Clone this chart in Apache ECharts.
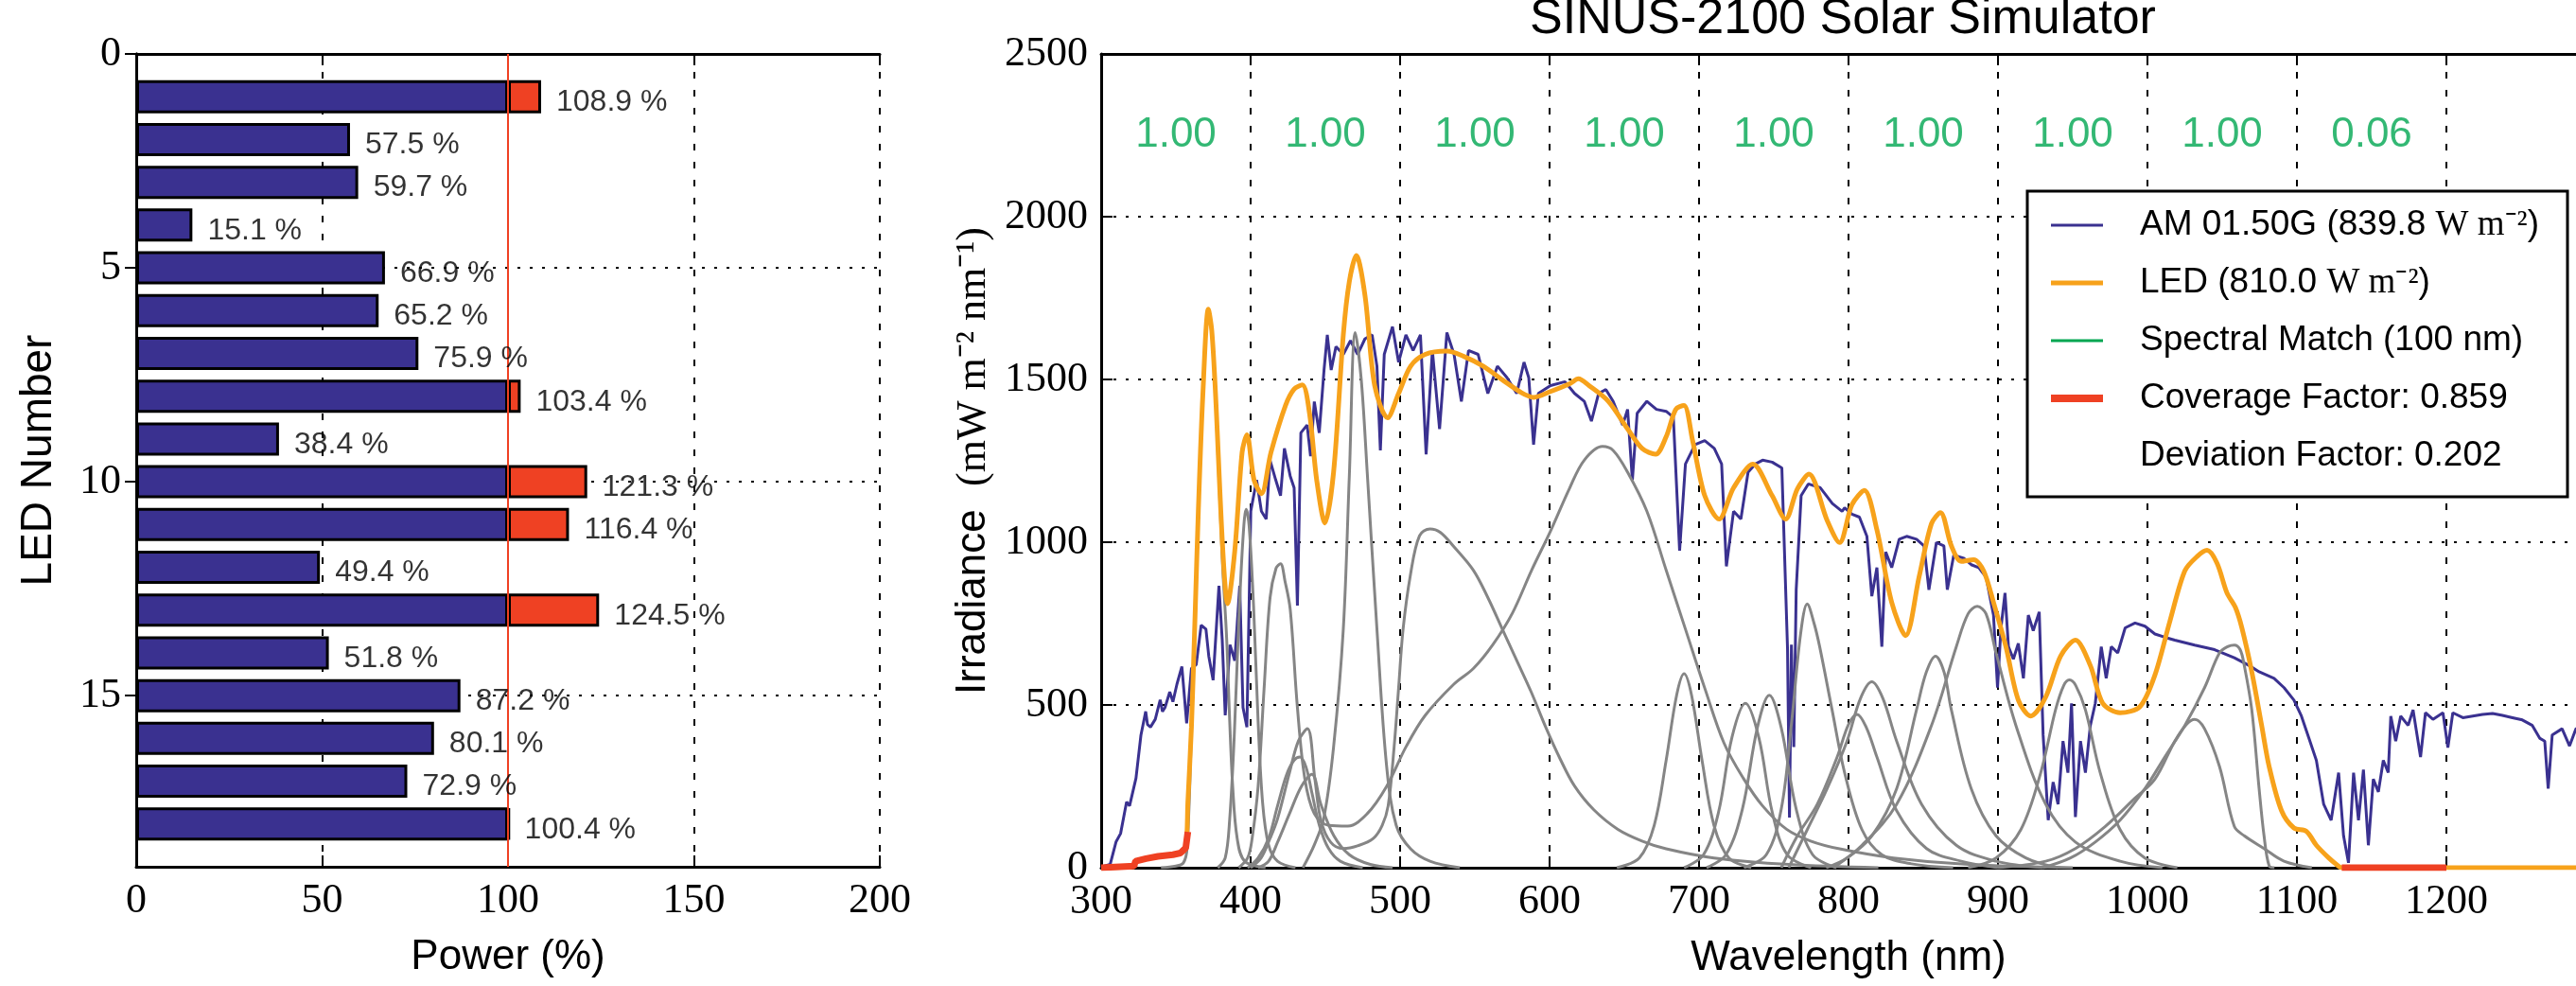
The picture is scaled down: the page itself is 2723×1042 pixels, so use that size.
<!DOCTYPE html>
<html><head><meta charset="utf-8">
<script src="https://cdn.jsdelivr.net/npm/echarts@6/dist/echarts.min.js"></script>
<style>html,body{margin:0;padding:0;background:#fff;}#c{width:2723px;height:1042px;}</style>
</head><body><div id="c"></div>
<script>
// ---------------- LEFT PANEL DATA ----------------
const ledNumbers = [1,2,3,4,5,6,7,8,9,10,11,12,13,14,15,16,17,18];
const ledPower = [108.9,57.5,59.7,15.1,66.9,65.2,75.9,103.4,38.4,121.3,116.4,49.4,124.5,51.8,87.2,80.1,72.9,100.4];
const ledAxisSlots = ['0','1','2','3','4','5','6','7','8','9','10','11','12','13','14','15','16','17','18','19'];
const ledTickLabels = ['0','5','10','15'];
const powerTicks = {min:0, max:200, step:50};
const nominalPower = 100;

// ---------------- RIGHT PANEL DATA ----------------
const wavelengthTicks = {min:300, max:1300, step:100};
const irradianceTicks = {min:0, max:2500, step:500};
const matchCenters = [350,450,550,650,750,850,950,1050,1150];
const matchValues = [1.00,1.00,1.00,1.00,1.00,1.00,1.00,1.00,0.06];
const matchLabelLevel = 2250;

const amSpectrum = [[300,0],[302.8,6],[306,10],[310,80],[313,105],[317,202],[319,190],[323.3,275],[326.6,407],[329.8,480],[331,440],[333,432],[336.2,456],[339.5,516],[341,480],[342.7,492],[345.9,540],[348,510],[350.7,564],[354,618],[357.2,444],[360.4,612],[363.6,624],[366.9,745],[370.1,733],[372,650],[374.9,576],[378.8,866],[381,700],[383,468],[386.2,685],[389.4,636],[392.7,866],[394.9,492],[397.5,432],[400.1,1095],[404,1191],[407.2,1095],[410.4,1071],[413,1252],[416.8,1191],[420,1143],[422.6,1288],[426.5,1203],[429.1,1167],[431.3,805],[433.6,1336],[437.8,1360],[440.1,1264],[442.6,1432],[445.9,1336],[449.1,1529],[451.3,1637],[453.9,1529],[457.1,1601],[462,1577],[466.8,1619],[471.6,1577],[476.5,1625],[481.3,1637],[484.5,1541],[486.8,1282],[489.4,1577],[494.9,1662],[499,1553],[503.9,1637],[508.7,1589],[513.6,1637],[517.4,1270],[521.6,1589],[526.4,1348],[531.3,1644],[536.1,1577],[541,1432],[545.8,1589],[552.2,1577],[558.7,1457],[565.1,1541],[571.6,1505],[578,1457],[582.9,1553],[586.1,1505],[589.3,1300],[592.5,1457],[600.6,1481],[610.3,1493],[616.7,1457],[623.2,1433],[628,1372],[632.8,1457],[637.7,1469],[642.5,1433],[648.9,1360],[652.2,1408],[655.4,1191],[658.6,1396],[665.1,1433],[671.5,1408],[678,1402],[682.8,1384],[687,974],[690.9,1240],[697.3,1300],[703.8,1312],[710.2,1288],[715.1,1240],[718.3,926],[723.1,1095],[728,1071],[732.8,1215],[737.6,1240],[742.5,1252],[748.9,1246],[755.4,1228],[759.2,673],[760.5,154],[761.8,685],[763.4,371],[765,854],[768.3,1143],[773.1,1179],[781.2,1167],[789.2,1119],[795.7,1095],[797.4,1106],[802.3,1086],[807.3,1077],[812.3,1018],[815.6,834],[819,922],[822.3,679],[824.9,970],[828.9,922],[833.9,1009],[838.9,1018],[845.5,1009],[850.5,989],[853.8,854],[858.8,999],[863.8,989],[866.1,854],[870.4,960],[877.1,951],[882.1,931],[887.1,922],[892,893],[897,776],[899.7,553],[902,737],[904.7,844],[907,679],[910.3,641],[913.6,689],[917,582],[920.3,776],[923.6,728],[927.6,786],[930.2,408],[933.6,146],[936.9,263],[940.2,195],[943.5,389],[946.8,292],[949.2,505],[951.8,156],[955.2,389],[958.5,292],[961.8,437],[965.1,505],[969.1,679],[972.4,582],[975.8,679],[980.1,660],[985.1,737],[991.7,752],[998.3,742],[1005,718],[1011.6,708],[1018.3,699],[1031.6,684],[1044.9,670],[1058.1,645],[1068.1,621],[1074.7,602],[1084.7,582],[1091.4,553],[1098,515],[1103,466],[1108,398],[1113,330],[1117.9,195],[1122.9,146],[1127.9,292],[1131.2,98],[1134.5,15],[1137.9,292],[1141.2,146],[1144.5,301],[1147.8,69],[1151.1,272],[1154.5,233],[1157.8,330],[1161.1,292],[1162.8,466],[1166.1,389],[1169.4,466],[1174.4,437],[1177.7,485],[1182.7,340],[1186,476],[1191,456],[1197.7,476],[1201,369],[1204.3,476],[1211,461],[1217.6,466],[1224.2,471],[1230.9,474],[1237.5,468],[1244.2,461],[1250.8,454],[1257.5,437],[1262.4,398],[1265.8,389],[1268.1,243],[1270.8,408],[1277.4,427],[1282.4,374],[1286.7,427],[1292,432],[1300,428]];

const ledTotal = [[300,0],[322,5],[323,20],[330,28],[338,35],[348,40],[353,45],[356.6,61],[358,200],[360.4,432],[363,800],[365,1095],[368,1450],[371.7,1716],[374,1650],[376.5,1457],[381.4,974],[384.6,811],[389.4,974],[394.3,1276],[397.5,1330],[402.3,1191],[407.2,1149],[413.6,1276],[423.3,1420],[429,1470],[434.6,1483],[439.4,1396],[444.2,1191],[449.7,1059],[455.5,1215],[462,1637],[466,1800],[470.7,1881],[476.5,1758],[483,1481],[491.6,1382],[499,1457],[507.1,1541],[516.8,1577],[531.3,1587],[542.6,1571],[555.5,1541],[568.4,1499],[581.3,1459],[589.3,1445],[600.6,1463],[613.5,1487],[619.3,1502],[626.4,1481],[639.3,1433],[652.2,1348],[661.9,1288],[670.9,1270],[678,1324],[684.4,1408],[689.9,1420],[695.7,1312],[703.8,1143],[713.4,1071],[723.1,1167],[736,1240],[748.9,1143],[757.9,1071],[765.8,1164],[773.5,1209],[785.7,1067],[794,999],[802.3,1115],[810.6,1159],[819,1038],[828.9,815],[838.2,713],[847.2,893],[855.5,1057],[861.5,1091],[868.8,989],[875.4,941],[883.7,946],[890.4,912],[897,815],[905.3,679],[913.6,515],[921.9,466],[931.9,524],[941.9,650],[951.8,699],[961.8,621],[970.1,505],[981.7,476],[995,495],[1005,592],[1015,757],[1025,912],[1033.2,956],[1039.9,975],[1046.5,936],[1053.2,844],[1058.8,800],[1063.1,738],[1069.8,602],[1076.4,437],[1081.4,311],[1089.7,175],[1098,122],[1106.3,112],[1113,69],[1121.3,30],[1126.2,11],[1130,0],[1300,0]];

const coverageGaps = [[300,0],[322,5],[323,20],[330,28],[338,35],[348,40],[353,45],[356.6,61],[358,110],null,[1130,0],[1200,0]];

const ledSpectra = [
 [[340,0],[350,5],[355,15],[357.5,60],[360.4,420],[363,790],[365,1090],[368,1440],[371.7,1700],[374,1640],[376.5,1450],[381,950],[384,700],[386,450],[388,250],[391,90],[396,20],[410,0]],
 [[378,0],[383,30],[386,150],[389,400],[392,750],[395,1020],[397,1101],[399,1050],[402,800],[405,450],[408,200],[412,70],[418,20],[430,0]],
 [[392,0],[398,30],[401,90],[405,250],[409,550],[413,830],[417,920],[420,934],[423,880],[426.5,793],[431.3,492],[436.2,275],[442.6,166],[452.3,130],[465,128],[478,166],[491,250],[503.9,371],[516.8,468],[536,564],[549,612],[562,685],[575,781],[588,914],[600.6,1034],[613.5,1167],[623.2,1252],[635.4,1294],[642.5,1282],[652.2,1215],[665.1,1095],[678,914],[690.9,733],[703.8,552],[716.7,383],[729.6,275],[742.5,190],[758.6,118],[774.7,82],[794,58],[830,30],[880,10],[950,0]],
 [[398,0],[405,30],[412,90],[418,190],[424,285],[429,330],[433,340],[437,310],[441,230],[446,130],[452,60],[460,20],[475,0]],
 [[400,0],[407,30],[413,90],[418,150],[426,292],[432,390],[438,427],[443,272],[447,146],[453.6,78],[462,59],[472,68],[482,90],[488,130],[492,190],[496,371],[499,552],[502,733],[507,902],[513,1020],[520,1041],[527,1030],[536,986],[549,914],[558.7,830],[568.4,733],[578,637],[587.7,540],[597.4,432],[607,335],[616.7,251],[629.6,178],[645.7,118],[661.9,82],[678,58],[710,30],[760,10],[820,0]],
 [[405,0],[412,20],[418,78],[426,166],[434,250],[441,287],[447,195],[455.7,98],[466,40],[480,10],[495,0]],
 [[435,0],[442.6,70],[449,154],[455.5,371],[462,733],[466,1200],[470,1644],[474,1500],[478,1215],[484.5,733],[491,311],[497.4,130],[507,58],[520,20],[540,0]],
 [[645,0],[660,30],[670,130],[678,330],[685,530],[690,596],[695,530],[702,330],[710,130],[720,30],[735,0]],
 [[690,0],[703,40],[713,170],[722,400],[731,505],[740,400],[749,170],[759,40],[775,0]],
 [[705,0],[718,40],[729,180],[739,430],[747,530],[755,430],[765,180],[776,40],[792,0]],
 [[730,0],[745,40],[755,180],[762,450],[768,720],[772.4,810],[777,750],[780.7,679],[789,485],[797.4,292],[809,117],[822.3,40],[842,12],[870,0]],
 [[755,0],[765.8,98],[779.1,195],[792.4,340],[800,440],[805.7,471],[812,430],[819,340],[832.2,175],[852.2,59],[875.4,20],[900,0]],
 [[760,0],[772.4,117],[785.7,243],[799,389],[808,520],[815.6,571],[823,520],[832.2,389],[848.9,195],[872.1,69],[898.7,20],[930,0]],
 [[785,0],[799,30],[815.6,98],[832.2,243],[845.5,485],[852,600],[858.2,650],[864,600],[868.8,485],[882.1,243],[898.7,98],[918.6,30],[940,0]],
 [[790,0],[809,69],[832.2,195],[855.5,437],[872.1,679],[880,780],[886.1,803],[892,780],[898.7,660],[912,437],[931.9,195],[951.8,79],[981.7,20],[1010,0]],
 [[880,0],[898.7,30],[915.3,117],[928.6,292],[938.5,485],[944,560],[947.8,577],[952,560],[958.5,485],[968.4,292],[981.7,117],[998.3,30],[1020,0]],
 [[900,0],[931.9,20],[951.8,59],[971.8,127],[991.7,214],[1005,272],[1018.3,389],[1026,440],[1031.6,456],[1038.2,427],[1048.2,311],[1058.1,127],[1064.8,98],[1078,59],[1091.4,20],[1110,0]],
 [[930,0],[948.5,30],[965.1,79],[981.7,146],[998.3,243],[1011.6,340],[1025,437],[1038.2,553],[1048.2,660],[1054,680],[1058.1,684],[1062,670],[1064.8,621],[1069.8,485],[1074.7,243],[1078,98],[1081.4,6],[1085,0]]
];

const nameAM = 'AM 01.50G (839.8 W m⁻²)';
const nameLED = 'LED (810.0 W m⁻²)';
const nameMatch = 'Spectral Match (100 nm)';
const nameCov = 'Coverage Factor: 0.859';
const nameDev = 'Deviation Factor: 0.202';

// ---------------- COLOURS / STYLE ----------------
const C = {blue:'#3a3190', red:'#ef4123', orange:'#f7a21b', green:'#00a651', gray:'#858585', black:'#000'};
const SERIF = 'Liberation Serif', SANS = 'Liberation Sans';

// derived bar parts
const slotIndex = ledNumbers.map(n => ledAxisSlots.indexOf(String(n)));
const blueParts = ledAxisSlots.map(() => null);
const redParts = ledAxisSlots.map(() => null);
ledNumbers.forEach((n, k) => {
  const v = ledPower[k];
  blueParts[slotIndex[k]] = Math.min(v, nominalPower);
  redParts[slotIndex[k]] = v > nominalPower ? +(v - nominalPower).toFixed(2) : null;
});
const isTickSlot = (i) => ledTickLabels.indexOf(ledAxisSlots[i]) >= 0;

const axisLineS = {show:true, lineStyle:{color:C.black, width:3}};
const tickS = {show:true, inside:true, length:12, lineStyle:{color:C.black, width:2}};
const vGrid = {show:true, lineStyle:{color:C.black, width:2, type:[7,12]}};
const hGrid = {show:true, lineStyle:{color:C.black, width:2, type:[3,10]}};
const tickLabel = {fontFamily:SERIF, fontSize:44, color:C.black, formatter:(v)=>String(v)};

const iconPath = (t) => { const a = (20 - t)/2, b = a + t; return `path://M0,0M89,20M0,${a}L55,${a}L55,${b}L0,${b}Z`; };

const chart = echarts.init(document.getElementById('c'), null, {renderer:'canvas'});
const option = {
  animation:false,
  backgroundColor:'#fff',
  grid:[
    {left:144, top:57, width:786, height:859, containLabel:false, outerBoundsMode:'none'},
    {left:1164, top:57, width:1580, height:860, containLabel:false, outerBoundsMode:'none'}
  ],
  xAxis:[
    {type:'value', gridIndex:0, min:powerTicks.min, max:powerTicks.max, interval:powerTicks.step,
     axisLine:axisLineS, axisTick:tickS, splitLine:vGrid,
     axisLabel:Object.assign({margin:14}, tickLabel),
     name:'Power (%)', nameLocation:'middle', nameGap:74,
     nameTextStyle:{fontFamily:SANS, fontSize:44, color:C.black}},
    {type:'value', gridIndex:0, position:'top', min:powerTicks.min, max:powerTicks.max, interval:powerTicks.step,
     axisLine:axisLineS, axisTick:tickS, splitLine:{show:false}, axisLabel:{show:false}},
    {type:'value', gridIndex:1, min:wavelengthTicks.min, max:wavelengthTicks.max, interval:wavelengthTicks.step,
     axisLine:axisLineS, axisTick:tickS, splitLine:vGrid,
     axisLabel:Object.assign({margin:14, showMaxLabel:false}, tickLabel),
     name:'Wavelength (nm)', nameLocation:'middle', nameGap:74,
     nameTextStyle:{fontFamily:SANS, fontSize:44, color:C.black}},
    {type:'value', gridIndex:1, position:'top', min:wavelengthTicks.min, max:wavelengthTicks.max, interval:wavelengthTicks.step,
     axisLine:axisLineS, axisTick:tickS, splitLine:{show:false}, axisLabel:{show:false}}
  ],
  yAxis:[
    {type:'category', gridIndex:0, data:ledAxisSlots, inverse:true, boundaryGap:false,
     axisLine:axisLineS,
     axisTick:Object.assign({}, tickS, {interval:(i)=>isTickSlot(i)}),
     axisLabel:{margin:16, interval:(i)=>isTickSlot(i), fontFamily:SERIF, fontSize:44, color:C.black},
     splitLine:{show:true, interval:(i)=>isTickSlot(i), lineStyle:{color:C.black, width:2, type:[3,10]}},
     name:'LED Number', nameLocation:'middle', nameGap:80, nameRotate:90,
     nameTextStyle:{fontFamily:SANS, fontSize:46, color:C.black}},
    {type:'category', gridIndex:0, position:'right', data:ledAxisSlots, inverse:true, boundaryGap:false,
     axisLine:axisLineS,
     axisTick:Object.assign({}, tickS, {interval:(i)=>isTickSlot(i)}),
     axisLabel:{show:false}, splitLine:{show:false}},
    {type:'value', gridIndex:1, min:irradianceTicks.min, max:irradianceTicks.max, interval:irradianceTicks.step,
     axisLine:axisLineS, axisTick:tickS, splitLine:hGrid,
     axisLabel:Object.assign({margin:14}, tickLabel),
     name:'{a|Irradiance  }{b|(mW m⁻² nm⁻¹)}', nameLocation:'middle', nameGap:110, nameRotate:90,
     nameTextStyle:{color:C.black, rich:{a:{fontFamily:SANS, fontSize:44, color:C.black}, b:{fontFamily:SERIF, fontSize:44, color:C.black}}}}
  ],
  legend:{
    orient:'vertical', left:2143, top:202, padding:[16,10,10,25], itemGap:21, itemWidth:89, itemHeight:20,
    selectedMode:false, z:6,
    itemStyle:{borderWidth:0},
    data:[
      {name:nameAM, icon:iconPath(3), itemStyle:{color:C.blue, borderWidth:0}},
      {name:nameLED, icon:iconPath(5), itemStyle:{color:C.orange, borderWidth:0}},
      {name:nameMatch, icon:iconPath(3), itemStyle:{color:C.green, borderWidth:0, opacity:1}},
      {name:nameCov, icon:iconPath(8), itemStyle:{color:C.red, borderWidth:0}},
      {name:nameDev, icon:iconPath(3), itemStyle:{color:'rgba(0,0,0,0)', borderWidth:0}}
    ],
    formatter:(n)=> n.replace('W m⁻²', '{m|W m⁻²}'),
    textStyle:{fontFamily:SANS, fontSize:37, color:C.black, lineHeight:40,
      rich:{m:{fontFamily:SERIF, fontSize:37, color:C.black, lineHeight:40}}}
  },
  graphic:{elements:[
    {type:'rect', z:5, shape:{x:2143, y:202, width:571, height:323}, style:{fill:'#fff', stroke:C.black, lineWidth:3}},
    {type:'text', z:5, x:1948, y:21, style:{text:'SINUS-2100 Solar Simulator', fontFamily:SANS, fontSize:52, fill:C.black, align:'center', verticalAlign:'middle'}}
  ]},
  series:[
    {type:'bar', name:'below', xAxisIndex:0, yAxisIndex:0, stack:'p', data:blueParts, barWidth:35,
     itemStyle:{color:C.blue, borderColor:C.black, borderWidth:3}},
    {type:'bar', name:'above', xAxisIndex:0, yAxisIndex:0, stack:'p', data:redParts, barWidth:35,
     itemStyle:{color:C.red, borderColor:C.black, borderWidth:3}},
    {type:'scatter', name:'powerLabels', xAxisIndex:0, yAxisIndex:0, z:5,
     data:ledNumbers.map((n,k)=>[ledPower[k], slotIndex[k]]),
     symbolSize:0.1, itemStyle:{color:'rgba(0,0,0,0)'},
     label:{show:true, position:'right', distance:16, offset:[0,6], color:C.black, fontFamily:SANS, fontSize:32,
       formatter:(p)=> p.value[0].toFixed(1) + ' %'},
     markLine:{silent:true, symbol:['none','none'], label:{show:false},
       lineStyle:{color:C.red, width:2, type:'solid'}, data:[{xAxis:nominalPower}]}},
    {type:'line', name:nameAM, xAxisIndex:2, yAxisIndex:2, data:amSpectrum, showSymbol:false, symbol:'none',
     color:C.blue, lineStyle:{color:C.blue, width:3}, z:2},
    ...ledSpectra.map((d,k)=>({type:'line', name:'LED '+(k+1), xAxisIndex:2, yAxisIndex:2, data:d, smooth:0.35,
     showSymbol:false, symbol:'none', lineStyle:{color:C.gray, width:3}, z:3})),
    {type:'line', name:nameLED, xAxisIndex:2, yAxisIndex:2, data:ledTotal, smooth:0.3, showSymbol:false, symbol:'none',
     color:C.orange, lineStyle:{color:C.orange, width:5}, z:4},
    {type:'line', name:nameCov, xAxisIndex:2, yAxisIndex:2, data:coverageGaps, connectNulls:false, showSymbol:false, symbol:'none',
     color:C.red, lineStyle:{color:C.red, width:7}, z:4},
    {type:'scatter', name:nameMatch, xAxisIndex:2, yAxisIndex:2, z:4,
     data:matchCenters.map((x,k)=>[x, matchLabelLevel, matchValues[k]]),
     symbolSize:0.1, itemStyle:{color:'rgba(0,0,0,0)'}, color:C.green,
     label:{show:true, position:'inside', color:C.green, fontFamily:SANS, fontSize:44,
       formatter:(p)=> p.value[2].toFixed(2)}},
    {type:'line', name:nameDev, xAxisIndex:2, yAxisIndex:2, data:[], showSymbol:false, color:'rgba(0,0,0,0)'}
  ]
};
chart.setOption(option);
</script>
</body></html>
